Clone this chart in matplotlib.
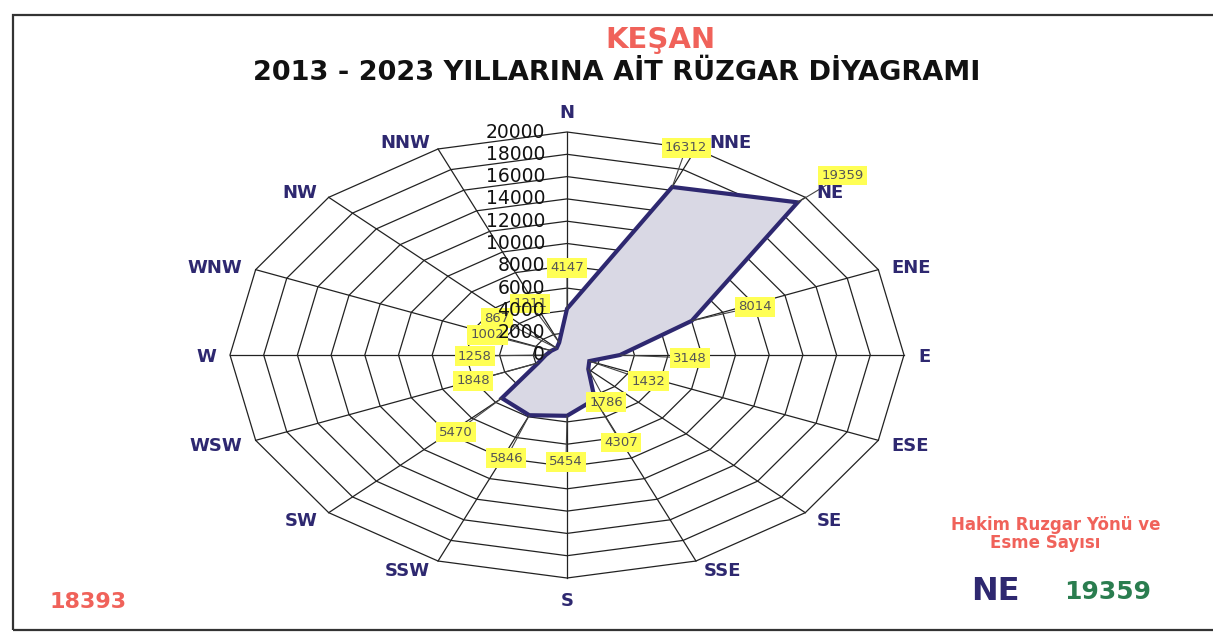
import numpy as np
import matplotlib.pyplot as plt
from matplotlib.patches import Rectangle, Polygon

plt.rcParams['font.family'] = ['DejaVu Sans']

# wind directions and number of occurrences (2013-2023)
directions = ['N', 'NNE', 'NE', 'ENE', 'E', 'ESE', 'SE', 'SSE',
              'S', 'SSW', 'SW', 'WSW', 'W', 'WNW', 'NW', 'NNW']
counts = [4147, 16312, 19359, 8014, 3148, 1432, 1786, 4307,
          5454, 5846, 5470, 1848, 1258, 1002, 867, 1211]
ring_values = list(range(0, 20001, 2000))

# offsets (pixels) of the yellow value boxes from their points
label_offsets = [(0, -41), (14, -39), (45, -27), (63, -14), (70, 3), (59, 20),
                 (18, 33), (26, 43), (-1, 46), (-23, 43), (-46, 34), (-65, 18),
                 (-71, 1), (-64, -16), (-60, -30), (-29, -39)]

W_PX, H_PX = 1213, 633
CX, CY = 567, 355          # centre of the diagram in pixels
RX, RY = 337, 223          # pixel radius of the 20000 ring
rmax = 20000
sx = rmax / RX
sy = rmax / RY

navy = '#2e2870'
salmon = '#f0625a'

fig = plt.figure(figsize=(W_PX / 100, H_PX / 100), dpi=100)
ax = fig.add_axes([0, 0, 1, 1])
ax.set_xlim(-CX * sx, (W_PX - CX) * sx)
ax.set_ylim(-(H_PX - CY) * sy, CY * sy)
ax.axis('off')

theta = np.deg2rad(np.arange(16) * 22.5)
s, c = np.sin(theta), np.cos(theta)

# web grid
for rv in ring_values[1:]:
    ax.add_patch(Polygon(np.column_stack([rv * s, rv * c]), closed=True,
                         fill=False, ec='#222222', lw=0.9, zorder=2))
for k in range(16):
    ax.plot([0, rmax * s[k]], [0, rmax * c[k]], color='#222222', lw=0.9, zorder=2)

# data polygon
vals = np.array(counts)
ax.add_patch(Polygon(np.column_stack([vals * s, vals * c]), closed=True,
                     fc='#d9d8e4', ec=navy, lw=3.0, zorder=3, joinstyle='miter'))

# value boxes
for k, v in enumerate(counts):
    dx, dy = label_offsets[k]
    ax.annotate(f'{v}', xy=(v * s[k], v * c[k]), xytext=(dx * 0.72, -dy * 0.72),
                textcoords='offset points', ha='center', va='center',
                fontsize=9.5, color='#555555', zorder=4,
                bbox=dict(boxstyle='square,pad=0.25', fc='#ffff55', ec='none'),
                arrowprops=dict(arrowstyle='-', color='#444444', lw=0.8,
                                shrinkA=0, shrinkB=0))

# ring labels along the N axis
for rv in ring_values:
    ax.text(-22 * sx, rv, f'{rv}', ha='right', va='center', fontsize=13.5,
            color='#111111', zorder=5)

# direction names
for k, name in enumerate(directions):
    ha = 'left' if s[k] > 0.1 else ('right' if s[k] < -0.1 else 'center')
    if k == 0:
        va = 'bottom'
    elif k == 8:
        va = 'top'
    else:
        va = 'center'
    dx = 10 * s[k] + (4 if s[k] > 0.1 else (-4 if s[k] < -0.1 else 0))
    dy = 9 * c[k] - 2
    if k == 0:
        dy = 10
    if k == 8:
        dy = -14
    if k == 1:
        dx += 6
    ax.annotate(name, xy=(rmax * s[k], rmax * c[k]), xytext=(dx * 0.72, dy * 0.72),
                textcoords='offset points', ha=ha, va=va, fontsize=13,
                fontweight='bold', color=navy, zorder=5)

# titles and notes
fig.text(660 / W_PX, 1 - 40 / H_PX, 'KEŞAN', ha='center', va='center',
         fontsize=21, fontweight='bold', color=salmon)
fig.text(617 / W_PX, 1 - 73 / H_PX, '2013 - 2023 YILLARINA AİT RÜZGAR DİYAGRAMI',
         ha='center', va='center', fontsize=19.5, fontweight='bold', color='#111111')
fig.text(88 / W_PX, 1 - 602 / H_PX, '18393', ha='center', va='center',
         fontsize=16, fontweight='bold', color=salmon)
fig.text(1056 / W_PX, 1 - 525 / H_PX, 'Hakim Ruzgar Yönü ve', ha='center',
         va='center', fontsize=12, fontweight='bold', color=salmon)
fig.text(1045 / W_PX, 1 - 543 / H_PX, 'Esme Sayısı', ha='center',
         va='center', fontsize=12, fontweight='bold', color=salmon)
fig.text(995 / W_PX, 1 - 592 / H_PX, 'NE', ha='center', va='center',
         fontsize=23, fontweight='bold', color=navy)
fig.text(1108 / W_PX, 1 - 592 / H_PX, '19359', ha='center', va='center',
         fontsize=18, fontweight='bold', color='#2a7d4f')

# page frame
fig.patches.append(Rectangle((13 / W_PX, 3 / H_PX), 1.2, 1 - 18 / H_PX,
                             transform=fig.transFigure, fill=False,
                             ec='#333333', lw=1.6))

fig.savefig('out.png', dpi=100)
